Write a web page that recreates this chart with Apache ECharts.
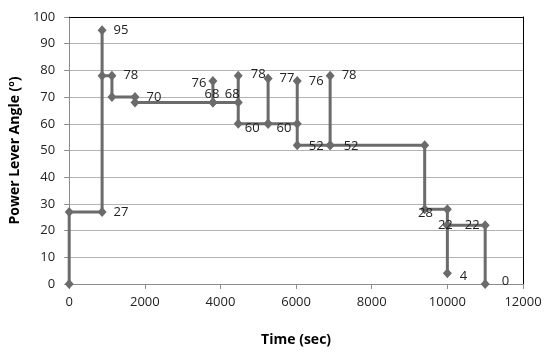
<!DOCTYPE html>
<html>
<head>
<meta charset="utf-8">
<script src="https://cdn.jsdelivr.net/npm/echarts@6/dist/echarts.min.js"></script>
<style>html,body{margin:0;padding:0;background:#fff}#c{width:550px;height:358px}</style>
</head>
<body>
<div id="c"></div>
<script>
// Time (sec) of each point along the path
var times = [0, 0, 870, 870, 870, 1130, 1130, 1740, 1740, 3800, 3800, 3800, 4470, 4470, 4470, 5260, 5260, 5260, 6030, 6030, 6030, 6900, 6900, 6900, 9400, 9400, 10000, 10000, 10000, 10000, 11000, 11000];
// Power lever angle (deg)
var angles = [0, 27, 27, 95, 78, 78, 70, 70, 68, 68, 76, 68, 68, 78, 60, 60, 77, 60, 60, 76, 52, 52, 78, 52, 52, 28, 28, 22, 4, 22, 22, 0];
// which points carry a data label (true) and which do not
var labelled = [false, false, true, true, false, true, false, true, false, false, true, true, true, true, true, false, true, true, false, true, true, false, true, true, false, false, true, true, true, false, true, true];
var xTicks = {min: 0, max: 12000, interval: 2000};
var yTicks = {min: 0, max: 100, interval: 10};

// label placement styles (by point index)
var labelStyle = {
  10: {position: 'left', distance: 2, offset: [0, 2]},
  11: {position: 'inside', offset: [-1, -8]},
  12: {position: 'left', distance: -1, offset: [5, -8]},
  13: {position: 'right', distance: 8, offset: [0, -1]},
  14: {position: 'right', distance: 2, offset: [0, 4]},
  17: {position: 'right', distance: 4, offset: [0, 4]},
  20: {position: 'right', distance: 7, offset: [0, 1]},
  23: {position: 'right', distance: 9, offset: [0, 1]},
  26: {position: 'left', distance: 10, offset: [0, 4]},
  27: {position: 'inside', offset: [-2, 0]},
  28: {position: 'right', distance: 8, offset: [0, 3]},
  30: {position: 'left', distance: 1},
  31: {position: 'right', distance: 12, offset: [0, -3]}
};

var data = times.map(function (t, i) {
  var item = {value: [t, angles[i]]};
  var ls = labelStyle[i] || {};
  item.label = Object.assign({show: labelled[i], formatter: String(angles[i])}, ls);
  return item;
});

var font = 'Open Sans';
var chart = echarts.init(document.getElementById('c'), null, {renderer: 'canvas'});
chart.setOption({
  animation: false,
  backgroundColor: '#fff',
  grid: {left: 67, right: 27, top: 17, bottom: 74, containLabel: false},
  xAxis: [{
    type: 'value', min: xTicks.min, max: xTicks.max, interval: xTicks.interval,
    name: 'Time (sec)', nameLocation: 'middle', nameGap: 49,
    nameTextStyle: {fontFamily: font, fontSize: 14, fontWeight: 'bold', color: '#000'},
    axisLine: {show: true, lineStyle: {color: '#8c8c8c', width: 1}},
    axisTick: {show: true, length: 5, lineStyle: {color: '#8c8c8c'}},
    axisLabel: {fontFamily: font, fontSize: 13, color: '#222', margin: 12,
      formatter: function (v) { return String(v); }},
    splitLine: {show: false}
  }, {
    type: 'value', position: 'top', min: xTicks.min, max: xTicks.max,
    axisLine: {show: true, onZero: false, lineStyle: {color: '#000', width: 1}},
    axisTick: {show: false}, axisLabel: {show: false}, splitLine: {show: false}
  }],
  yAxis: [{
    type: 'value', min: yTicks.min, max: yTicks.max, interval: yTicks.interval,
    name: 'Power Lever Angle (º)', nameLocation: 'middle', nameGap: 35,
    nameTextStyle: {fontFamily: font, fontSize: 14, fontWeight: 'bold', color: '#000'},
    axisLine: {show: true, lineStyle: {color: '#8c8c8c', width: 1}},
    axisTick: {show: true, length: 5, lineStyle: {color: '#8c8c8c'}},
    axisLabel: {fontFamily: font, fontSize: 13, color: '#222', margin: 14},
    splitLine: {show: true, lineStyle: {color: '#b4b4b4', width: 1}}
  }, {
    type: 'value', position: 'right', min: yTicks.min, max: yTicks.max,
    axisLine: {show: true, onZero: false, lineStyle: {color: '#000', width: 1}},
    axisTick: {show: false}, axisLabel: {show: false}, splitLine: {show: false}
  }],
  series: [{
    type: 'line',
    xAxisIndex: 0, yAxisIndex: 0,
    data: data,
    symbol: 'diamond', symbolSize: [9, 10], showAllSymbol: true,
    lineStyle: {color: '#6b6b6b', width: 3},
    itemStyle: {color: '#6b6b6b'},
    label: {show: true, position: 'right', distance: 7, fontFamily: font, fontSize: 13, color: '#222'},
    emphasis: {disabled: true},
    clip: false
  }]
});
</script>
</body>
</html>
